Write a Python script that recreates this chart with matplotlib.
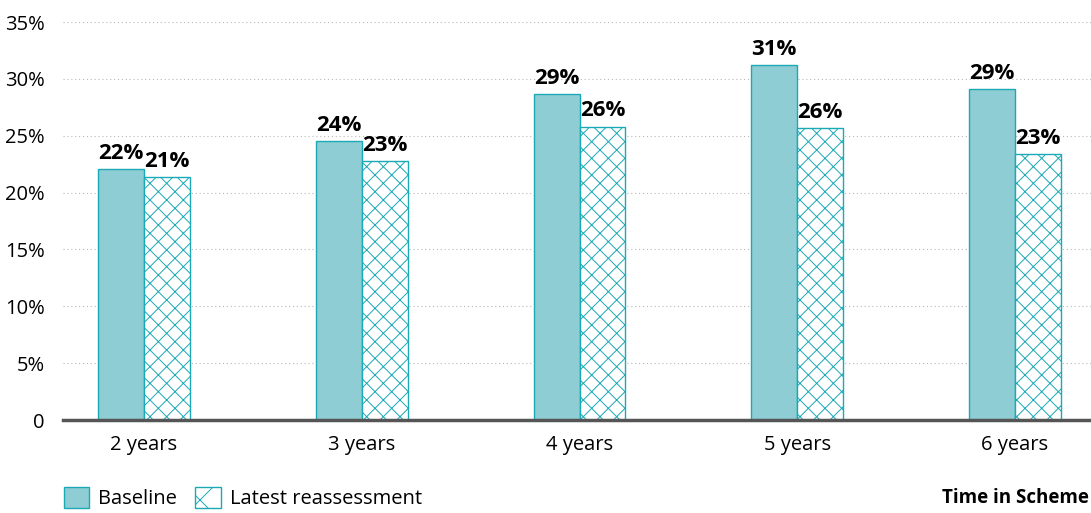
import matplotlib.pyplot as plt
from matplotlib.patches import Patch
import numpy as np

categories = ['2 years', '3 years', '4 years', '5 years', '6 years']
baseline = [22.1, 24.5, 28.7, 31.2, 29.1]
latest = [21.4, 22.8, 25.8, 25.7, 23.4]
y_ticks = [0, 5, 10, 15, 20, 25, 30, 35]
y_tick_labels = ['0', '5%', '10%', '15%', '20%', '25%', '30%', '35%']

plt.rcParams['font.family'] = ['Open Sans', 'DejaVu Sans']
plt.rcParams['hatch.color'] = '#1aa9b5'
plt.rcParams['hatch.linewidth'] = 0.7

teal_fill = '#8fcdd4'
teal_edge = '#1aa9b5'

fig = plt.figure(figsize=(10.91, 5.13), dpi=100)
ax = fig.add_axes([63 / 1091, 1 - 420 / 513, 1 - 63 / 1091, (420 - 22) / 513])

x = np.arange(len(categories))
w = 0.211
b1 = ax.bar(x - w / 2, baseline, w, color=teal_fill, edgecolor=teal_edge, linewidth=1, zorder=3)
b2 = ax.bar(x + w / 2, latest, w, color='white', edgecolor=teal_edge, linewidth=1,
            hatch='//\\\\', zorder=3)

for bars, vals in [(b1, baseline), (b2, latest)]:
    for bar, v in zip(bars, vals):
        ax.text(bar.get_x() + bar.get_width() / 2, v + 0.45, f'{round(v)}%',
                ha='center', va='bottom', fontsize=16, fontweight='bold', color='black',
                zorder=5)

ax.set_xlim(-0.372, 4.349)
ax.set_ylim(0, 35)
ax.set_yticks(y_ticks)
ax.set_yticklabels(y_tick_labels, fontsize=14.5)
ax.set_xticks(x)
ax.set_xticklabels(categories, fontsize=14.5)
ax.tick_params(axis='both', length=0)
ax.tick_params(axis='y', pad=13)
ax.tick_params(axis='x', pad=11)

ax.grid(axis='y', linestyle=(0, (1, 2.5)), color='#b8b8b8', linewidth=0.8, zorder=0)
for s in ['top', 'right', 'left']:
    ax.spines[s].set_visible(False)
ax.spines['bottom'].set_color('#555555')
ax.spines['bottom'].set_linewidth(2.5)
ax.spines['bottom'].set_zorder(4)

handles = [Patch(facecolor=teal_fill, edgecolor=teal_edge, label='Baseline'),
           Patch(facecolor='white', edgecolor=teal_edge, hatch='/\\', label='Latest reassessment')]
fig.legend(handles=handles, loc='center left', bbox_to_anchor=(46 / 1091, 1 - 498 / 513),
           ncol=2, frameon=False, fontsize=14.5, handlelength=1.25, handleheight=1.25,
           handletextpad=0.45, columnspacing=0.9)

fig.text(1089 / 1091, 1 - 498 / 513, 'Time in Scheme', fontsize=13.5, fontweight='bold',
         ha='right', va='center')

fig.savefig('out.png', dpi=100)
